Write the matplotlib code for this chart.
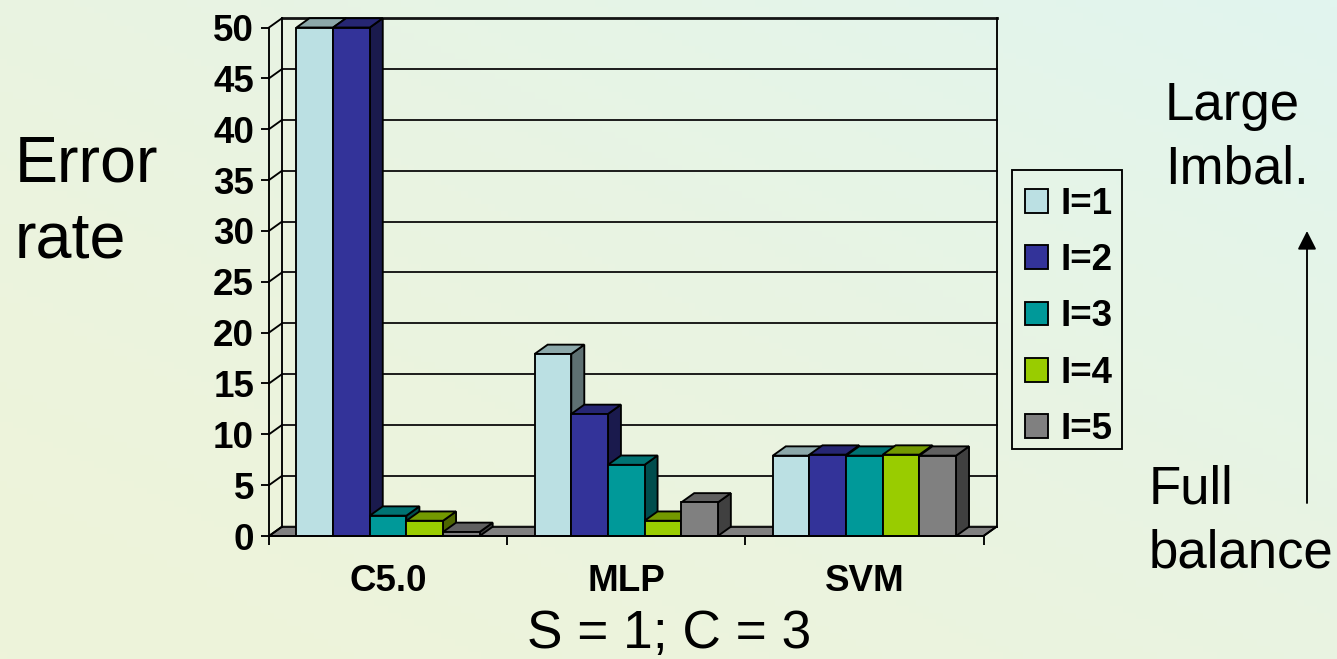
import numpy as np
import matplotlib
matplotlib.use("Agg")
import matplotlib.pyplot as plt
from matplotlib.patches import Polygon, FancyArrowPatch, Rectangle
from matplotlib.colors import to_rgb

categories = ["C5.0", "MLP", "SVM"]
series_names = ["I=1", "I=2", "I=3", "I=4", "I=5"]
i1 = [50, 17.9, 7.9]
i2 = [50, 12.0, 8.0]
i3 = [2.0, 7.0, 7.9]
i4 = [1.5, 1.5, 8.0]
i5 = [0.4, 3.3, 7.9]
series = [i1, i2, i3, i4, i5]
colors = ["#BBE0E3", "#333399", "#009999", "#99CC00", "#808080"]
y_ticks = list(range(0, 51, 5))

W, H = 1337, 659
plt.rcParams["font.family"] = ["Liberation Sans", "DejaVu Sans"]
fig = plt.figure(figsize=(W / 100, H / 100), dpi=100)

# diagonal background wash
bg = fig.add_axes([0, 0, 1, 1], zorder=0)
u, v = np.meshgrid(np.linspace(0, 1, 200), np.linspace(0, 1, 100))
t = ((u + v) / 2)[..., None] ** 1.5
c_a, c_b = np.array(to_rgb("#EEF3DA")), np.array(to_rgb("#E1F5EF"))
bg.imshow(c_a + (c_b - c_a) * t, aspect="auto", origin="lower", extent=[0, 1, 0, 1])
bg.axis("off")

L, R, T, B = 269, 983.5, 27.5, 536
ax = fig.add_axes([L / W, 1 - B / H, (R - L) / W, (B - T) / H], zorder=1)
ax.patch.set_visible(False)
ax.set_xlim(0, len(categories))
ax.set_ylim(0, 50)

dx = 13 * len(categories) / (R - L)
dy = 9.3 * 50 / (B - T)
n = len(categories)
LW = 1.35
FONT = 26.5

# floor and back wall
ax.add_patch(Polygon([(0, 0), (n, 0), (n + dx, dy), (dx, dy)], closed=True, fc="#808080",
                     ec="black", lw=LW, zorder=1, clip_on=False))
for val in y_ticks:
    lw = 2.0 if val == y_ticks[-1] else 1.35
    ax.plot([dx, n + dx], [val + dy, val + dy], color="#141414", lw=lw, zorder=1.5, clip_on=False)
    ax.plot([0, dx], [val, val + dy], color="black", lw=LW, zorder=1.5, clip_on=False)
ax.plot([dx, dx], [dy, 50 + dy], color="black", lw=LW, zorder=1.5, clip_on=False)
ax.plot([n + dx, n + dx], [dy, 50 + dy], color="black", lw=LW, zorder=1.5, clip_on=False)
ax.plot([n, n + dx], [0, dy], color="black", lw=LW, zorder=1.5, clip_on=False)

# 3-D looking bars
width = 1 / 6.5
pos = np.arange(n)
for i, (vals, col, name) in enumerate(zip(series, colors, series_names)):
    rgb = np.array(to_rgb(col))
    x0 = pos + 0.75 * width + i * width
    z = 3 + i
    ax.bar(x0, vals, width=width, align="edge", color=col, edgecolor="black", linewidth=LW,
           zorder=z + 0.5, label=name, clip_on=False)
    for x, val in zip(x0, vals):
        x1 = x + width
        ax.add_patch(Polygon([(x1, 0), (x1 + dx, dy), (x1 + dx, val + dy), (x1, val)], closed=True,
                             fc=rgb * 0.5, ec="black", lw=LW, zorder=z, clip_on=False))
        ax.add_patch(Polygon([(x, val), (x1, val), (x1 + dx, val + dy), (x + dx, val + dy)], closed=True,
                             fc=rgb * 0.75, ec="black", lw=LW, zorder=z, clip_on=False))

for s in ("top", "right"):
    ax.spines[s].set_visible(False)
for s in ("left", "bottom"):
    ax.spines[s].set_linewidth(LW)
    ax.spines[s].set_zorder(20)

ax.set_yticks(y_ticks)
ax.set_yticklabels([str(val) for val in y_ticks], fontsize=FONT, fontweight="bold")
ax.tick_params(axis="y", length=5.8, width=LW, pad=5)
ax.set_xticks(np.arange(n + 1))
ax.set_xticklabels([""] * (n + 1))
ax.set_xticks(pos + 0.5, minor=True)
ax.set_xticklabels(categories, minor=True, fontsize=FONT, fontweight="bold")
ax.tick_params(axis="x", which="major", length=6.5, width=LW)
ax.tick_params(axis="x", which="minor", length=0, pad=20.5)

leg = fig.legend(*ax.get_legend_handles_labels(), loc="upper left",
                 bbox_to_anchor=(1013 / W, 1 - 175 / H), borderaxespad=0,
                 prop={"size": FONT, "weight": "bold"}, frameon=False,
                 handlelength=0.62, handleheight=0.62, handletextpad=0.33,
                 labelspacing=0.575, borderpad=0.33)
leg.set_zorder(5)
fig.add_artist(Rectangle((1012 / W, 1 - 449 / H), 110 / W, 279 / H, transform=fig.transFigure,
                         fill=False, ec="black", lw=1.35, zorder=5))


def label(x, y, s, size):
    fig.text(x / W, 1 - y / H, s, fontsize=size, color="black", va="baseline", ha="left", zorder=5)


label(15, 182, "Error", 46.5)
label(15, 257, "rate", 46.5)
label(1165, 120, "Large", 38)
label(1165, 184, "Imbal.", 38)
label(1149, 503, "Full", 38)
label(1149, 568, "balance", 38)
label(527, 648, "S = 1; C = 3", 38.3)

fig.add_artist(FancyArrowPatch(
    (1307 / W, 1 - 503 / H), (1307 / W, 1 - 231 / H), transform=fig.transFigure,
    arrowstyle="-|>,head_length=0.75,head_width=0.38", mutation_scale=15,
    color="black", lw=1.35, shrinkA=0, shrinkB=0, zorder=5))

fig.savefig("out.png", dpi=100)
